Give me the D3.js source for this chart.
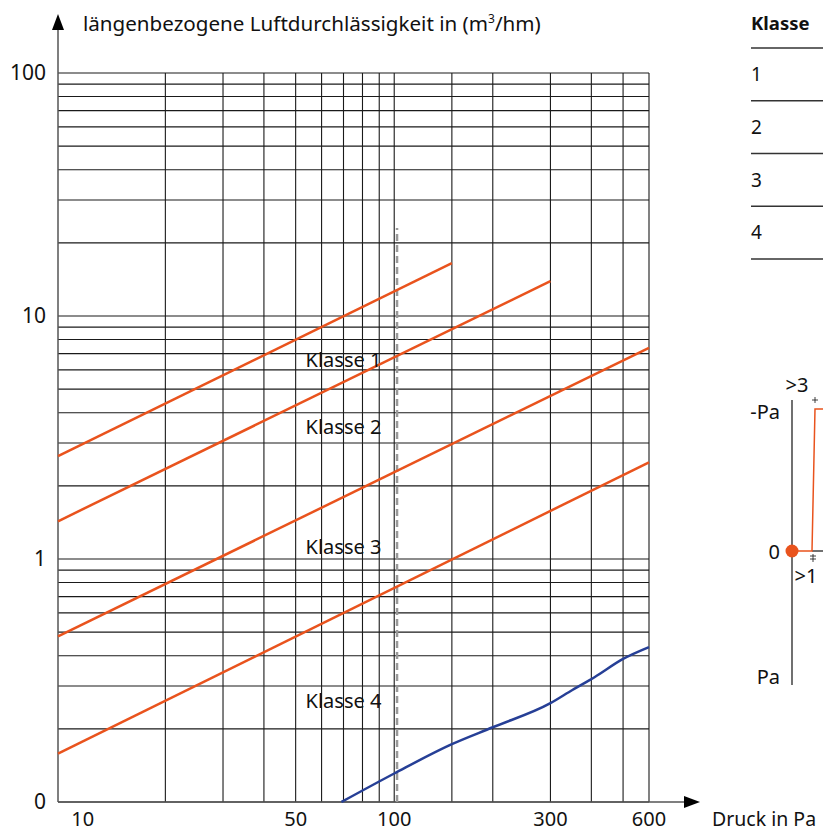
<!DOCTYPE html>
<html>
<head>
<meta charset="utf-8">
<script src="https://cdn.jsdelivr.net/npm/d3@7"></script>
<style>
  body { margin: 0; background: #fff; }
  svg { display: block; font-family: "Noto Sans", sans-serif; }
</style>
</head>
<body>
<svg width="823" height="832"></svg>
<script>
// Werte
let druckTicks = [10, 50, 100, 300, 600];
let druckGrid = [20, 30, 40, 50, 60, 70, 80, 90, 100, 150, 200, 300, 400, 500, 600];
let luftTicks = [0.1, 1, 10, 100];
let luftTickLabels = ["0", "1", "10", "100"];
let klassen = ["Klasse 1", "Klasse 2", "Klasse 3", "Klasse 4"];
let klasseLinien = [
    [[9.4, 2.65], [150, 16.5]],
    [[9.4, 1.43], [300, 13.9]],
    [[9.4, 0.48], [600, 7.4]],
    [[9.4, 0.158], [600, 2.5]]
];
let klasseLabelPos = [[70, 6.6], [70, 3.5], [70, 1.12], [70, 0.26]];
let messung = [
    [69, 0.1], [100, 0.131], [150, 0.173], [200, 0.203], [300, 0.255],
    [350, 0.289], [410, 0.327], [500, 0.388], [600, 0.434]
];
let grenzlinie = [[102, 0.1], [102, 23]];
let tabelleKlassen = ["1", "2", "3", "4"];

let svg = d3.select("svg");
let orange = "#e9531d";
let blau = "#263f96";

let x = d3.scaleLog().domain([9.4, 600]).range([58, 649]);
let y = d3.scaleLog().domain([0.1, 100]).range([802, 73]);

// Gitter horizontal: 1..9 je Dekade
let yGrid = [];
[0.1, 1, 10].forEach(d => { for (let i = 1; i <= 9; i++) yGrid.push(d * i); });
yGrid.push(100);

let grid = svg.append("g");
grid.selectAll("line.h")
    .data(yGrid)
    .enter()
    .append("line")
    .attr("x1", x(9.4))
    .attr("x2", x(600))
    .attr("y1", d => y(d))
    .attr("y2", d => y(d))
    .style("stroke", "#1a1a1a")
    .style("stroke-width", 1.1);

grid.selectAll("line.v")
    .data(druckGrid)
    .enter()
    .append("line")
    .attr("x1", d => x(d))
    .attr("x2", d => x(d))
    .attr("y1", y(0.1))
    .attr("y2", y(100))
    .style("stroke", "#1a1a1a")
    .style("stroke-width", 1.1);

// Achsen mit Pfeilen
svg.append("line")
    .attr("x1", 58).attr("x2", 58)
    .attr("y1", y(0.1)).attr("y2", 28)
    .style("stroke", "#555").style("stroke-width", 1.5);
svg.append("path")
    .attr("d", "M52,30 L64,30 L58,14 Z")
    .style("fill", "#000");
svg.append("line")
    .attr("x1", 58).attr("x2", 686)
    .attr("y1", y(0.1)).attr("y2", y(0.1))
    .style("stroke", "#555").style("stroke-width", 1.5);
svg.append("path")
    .attr("d", "M684,796 L684,808 L700,802 Z")
    .style("fill", "#000");

// Achsenbeschriftung
svg.selectAll("text.ytick")
    .data(luftTicks)
    .enter()
    .append("text")
    .attr("class", "ytick")
    .attr("x", 46)
    .attr("y", d => y(d))
    .attr("dy", "0.35em")
    .attr("text-anchor", "end")
    .style("font-size", "21px")
    .style("fill", "#111")
    .text((d, i) => luftTickLabels[i]);

svg.selectAll("text.xtick")
    .data(druckTicks)
    .enter()
    .append("text")
    .attr("class", "xtick")
    .attr("x", d => x(d))
    .attr("dx", (d, i) => i == 0 ? 16 : 0)
    .attr("y", 826)
    .attr("text-anchor", "middle")
    .style("font-size", "20px")
    .style("fill", "#111")
    .text(d => d);

svg.append("text")
    .attr("x", 712).attr("y", 826)
    .style("font-size", "19.5px").style("fill", "#111")
    .text("Druck in Pa");

let titel = svg.append("text")
    .attr("x", 83).attr("y", 31)
    .style("font-size", "20.6px").style("fill", "#111")
    .text("längenbezogene Luftdurchlässigkeit in (m");
titel.append("tspan").attr("dy", -8).style("font-size", "12px").text("3");
titel.append("tspan").attr("dy", 8).text("/hm)");

// Grenzlinie gestrichelt
let linie = d3.line().x(d => x(d[0])).y(d => y(d[1]));
svg.append("path")
    .attr("d", linie(grenzlinie))
    .style("stroke", "#999")
    .style("stroke-width", 2.5)
    .style("stroke-dasharray", "7,4")
    .style("fill", "none");

// Klassenlinien
svg.selectAll("path.klasse")
    .data(klasseLinien)
    .enter()
    .append("path")
    .attr("class", "klasse")
    .attr("d", linie)
    .style("stroke", orange)
    .style("stroke-width", 2.5)
    .style("fill", "none");

// Messkurve
svg.append("path")
    .attr("d", d3.line().x(d => x(d[0])).y(d => y(d[1])).curve(d3.curveMonotoneX)(messung))
    .style("stroke", blau)
    .style("stroke-width", 2.5)
    .style("fill", "none");

svg.selectAll("text.klasse")
    .data(klasseLabelPos)
    .enter()
    .append("text")
    .attr("x", d => x(d[0]))
    .attr("y", d => y(d[1]))
    .attr("dy", "0.35em")
    .attr("text-anchor", "middle")
    .style("font-size", "20px")
    .style("fill", "#111")
    .text((d, i) => klassen[i]);

// Tabelle rechts
svg.append("text")
    .attr("x", 751).attr("y", 24).attr("dy", "0.35em")
    .style("font-size", "18.5px").style("font-weight", "bold").style("fill", "#111")
    .text("Klasse");
let zeilen = d3.scaleLinear().domain([0, 4]).range([48, 259]);
svg.selectAll("line.tab")
    .data(d3.range(5))
    .enter()
    .append("line")
    .attr("x1", 751).attr("x2", 823)
    .attr("y1", d => zeilen(d)).attr("y2", d => zeilen(d))
    .style("stroke", "#333").style("stroke-width", 1.5);
svg.selectAll("text.tab")
    .data(tabelleKlassen)
    .enter()
    .append("text")
    .attr("x", 751)
    .attr("y", (d, i) => zeilen(i + 0.5))
    .attr("dy", "0.35em")
    .style("font-size", "19px").style("fill", "#111")
    .text(d => d);

// kleines Druckdiagramm rechts unten
let mini = svg.append("g");
mini.append("line")
    .attr("x1", 792).attr("x2", 792).attr("y1", 400).attr("y2", 685)
    .style("stroke", "#111").style("stroke-width", 1.2);
mini.append("line")
    .attr("x1", 812).attr("x2", 823).attr("y1", 551).attr("y2", 551)
    .style("stroke", "#111").style("stroke-width", 1.2);
mini.append("path")
    .attr("d", "M792,551 L812,551 L815,409 L823,409")
    .style("stroke", orange).style("stroke-width", 1.5).style("fill", "none");
mini.append("circle")
    .attr("cx", 792).attr("cy", 551).attr("r", 6.5)
    .style("fill", orange);
mini.append("path")
    .attr("d", "M812,400 L818,400 M815,397 L815,403 M810,556 L816,556 M810,559 L816,559 M813,554 L813,562")
    .style("stroke", "#111").style("stroke-width", 0.8);
[["-Pa", 780, 412, "end"], ["0", 780, 552, "end"], ["Pa", 780, 677, "end"],
 [">3", 797, 385, "middle"], [">1", 806, 576, "middle"]].forEach(t => {
    mini.append("text")
        .attr("x", t[1]).attr("y", t[2]).attr("dy", "0.35em")
        .attr("text-anchor", t[3])
        .style("font-size", "20px").style("fill", "#111")
        .text(t[0]);
});
</script>
</body>
</html>
